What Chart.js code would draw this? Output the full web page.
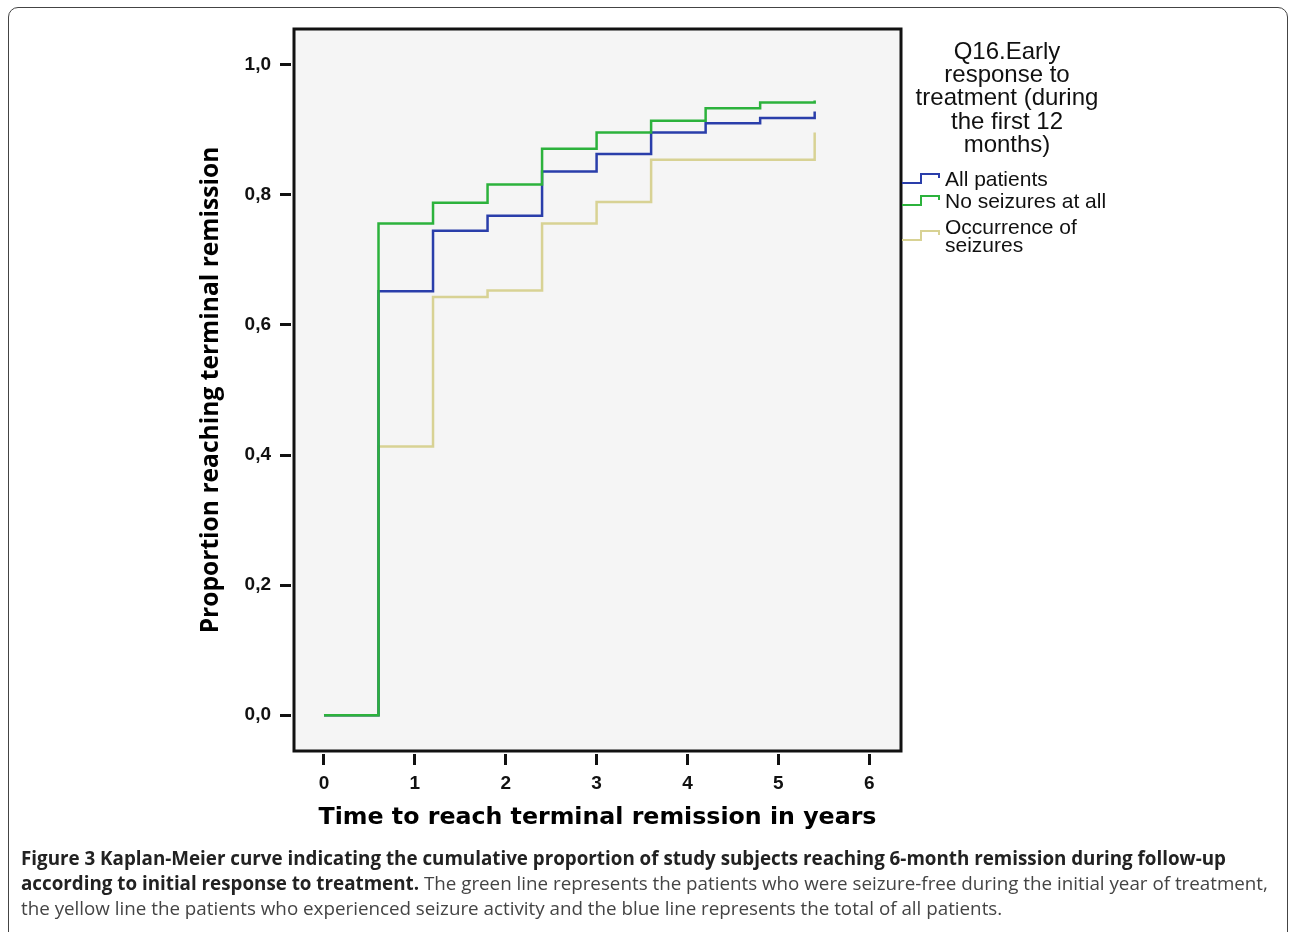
<!DOCTYPE html>
<html lang="en">
<head>
<meta charset="UTF-8">
<title>Kaplan-Meier remission curve</title>
<script src="https://cdn.jsdelivr.net/npm/chart.js"></script>
<style>
  body { margin: 0; background: #fff; }
  #figure { position: relative; width: 1290px; height: 932px; overflow: hidden; }
  /* rounded figure box, bottom edge runs off the page */
  #frame { position: absolute; left: 8px; top: 7px; width: 1278px; height: 960px;
           border: 1.5px solid #444; border-radius: 10px; }
  #kmChart { position: absolute; left: 0; top: 0; }
  #caption { position: absolute; left: 21px; top: 846px; font-family: "Open Sans", sans-serif;
             font-size: 18.8px; line-height: 25px; color: #444; white-space: nowrap; }
  #caption b { color: #222; }
</style>
</head>
<body>
<div id="figure">
  <div id="frame"></div>
  <canvas id="kmChart" width="1290" height="932"></canvas>
  <div id="caption">
    <b>Figure 3 Kaplan-Meier curve indicating the cumulative proportion of study subjects reaching 6-month remission during follow-up</b><br>
    <b>according to initial response to treatment.</b> The green line represents the patients who were seizure-free during the initial year of treatment,<br>
    the yellow line the patients who experienced seizure activity and the blue line represents the total of all patients.
  </div>
</div>

<script>
  // time points (years) where the curves step up
  const years = [0, 0.6, 1.2, 1.8, 2.4, 3.0, 3.6, 4.2, 4.8, 5.4];

  // cumulative proportion reaching terminal remission
  const allPatients = [0, 0.652, 0.745, 0.768, 0.836, 0.863, 0.896, 0.910, 0.918, 0.928];
  const noSeizures  = [0, 0.756, 0.788, 0.816, 0.871, 0.896, 0.914, 0.933, 0.942, 0.945];
  const seizures    = [0, 0.413, 0.643, 0.653, 0.756, 0.789, 0.854, 0.854, 0.854, 0.896];

  const xTicks = [0, 1, 2, 3, 4, 5, 6];
  const yTicks = [0, 0.2, 0.4, 0.6, 0.8, 1.0];

  const legendTitle = ['Q16.Early', 'response to', 'treatment (during', 'the first 12', 'months)'];
  const seriesLines = [['All patients'], ['No seizures at all'], ['Occurrence of', 'seizures']];

  const toPoints = vals => years.map((x, i) => ({ x: x, y: vals[i] }));

  const tickFont = { family: '"Liberation Sans", Arial, sans-serif', size: 19, weight: 'bold' };

  // plot background, box frame and the SPSS style legend on the right
  const spssFrame = {
    id: 'spssFrame',
    beforeDraw(chart) {
      const { ctx, chartArea: a } = chart;
      ctx.save();
      ctx.fillStyle = '#f5f5f5';
      ctx.fillRect(a.left, a.top, a.right - a.left, a.bottom - a.top);
      ctx.restore();
    },
    afterDraw(chart) {
      const { ctx, chartArea: a } = chart;
      ctx.save();
      ctx.strokeStyle = '#111';
      ctx.lineWidth = 3;
      ctx.strokeRect(a.left, a.top, a.right - a.left, a.bottom - a.top);

      ctx.fillStyle = '#111';
      ctx.textBaseline = 'middle';
      ctx.textAlign = 'center';
      ctx.font = '24px "Liberation Sans", Arial, sans-serif';
      legendTitle.forEach((t, i) => ctx.fillText(t, 1007, 52 + i * 23.3));

      const rowCenters = [180, 202, 237];
      ctx.font = '21px "Liberation Sans", Arial, sans-serif';
      ctx.textAlign = 'left';
      chart.data.datasets.forEach((ds, i) => {
        const c = rowCenters[i];
        ctx.strokeStyle = ds.borderColor;
        ctx.lineWidth = 2;
        ctx.beginPath();
        ctx.moveTo(902, c + 3);
        ctx.lineTo(921, c + 3);
        ctx.lineTo(921, c - 6);
        ctx.lineTo(939, c - 6);
        ctx.lineTo(939, c - 2);
        ctx.stroke();
        const lines = seriesLines[i];
        const y0 = c - (lines.length - 1) * 9;
        lines.forEach((t, j) => ctx.fillText(t, 945, y0 + j * 18));
      });
      ctx.restore();
    }
  };

  const ctx = document.getElementById('kmChart').getContext('2d');
  const kmChart = new Chart(ctx, {
    type: 'line',
    data: {
      datasets: [{
        label: seriesLines[0].join(' '),
        data: toPoints(allPatients),
        borderColor: '#2a3eaa',
        order: 1
      }, {
        label: seriesLines[1].join(' '),
        data: toPoints(noSeizures),
        borderColor: '#2cb23c',
        order: 0
      }, {
        label: seriesLines[2].join(' '),
        data: toPoints(seizures),
        borderColor: '#d8d294',
        order: 2
      }]
    },
    options: {
      responsive: false,
      animation: false,
      datasets: { line: { stepped: true, borderWidth: 2.5, pointRadius: 0, fill: false } },
      layout: { padding: { left: 0, right: 389, top: 29, bottom: 0 } },
      plugins: { legend: { display: false }, tooltip: { enabled: false } },
      scales: {
        x: {
          type: 'linear',
          min: -0.33,
          max: 6.35,
          afterBuildTicks: s => { s.ticks = xTicks.map(v => ({ value: v })); },
          afterFit: s => { s.height = 181; },
          border: { display: false },
          grid: { drawOnChartArea: false, tickLength: 14, tickWidth: 3, tickColor: '#111',
                  tickBorderDash: [0, 3, 11, 50] },
          ticks: { font: tickFont, color: '#111', padding: 7, maxRotation: 0 },
          title: {
            display: true,
            text: 'Time to reach terminal remission in years',
            color: '#000',
            font: { family: '"DejaVu Sans", Verdana, sans-serif', size: 23.7, weight: 'bold' },
            padding: { top: 0, bottom: 100 }
          }
        },
        y: {
          min: -0.055,
          max: 1.055,
          afterBuildTicks: s => { s.ticks = yTicks.map(v => ({ value: v })); },
          afterFit: s => { s.width = 294; },
          border: { display: false },
          grid: { drawOnChartArea: false, tickLength: 14, tickWidth: 3, tickColor: '#111',
                  tickBorderDash: [11, 50] },
          ticks: { font: tickFont, color: '#111', padding: 9,
                   callback: v => v.toFixed(1).replace('.', ',') },
          title: {
            display: true,
            text: 'Proportion reaching terminal remission',
            color: '#000',
            font: { family: '"Open Sans", sans-serif', size: 24.6, weight: 'bold' },
            padding: { top: 196, bottom: 0 }
          }
        }
      }
    },
    plugins: [spssFrame]
  });
</script>
</body>
</html>
